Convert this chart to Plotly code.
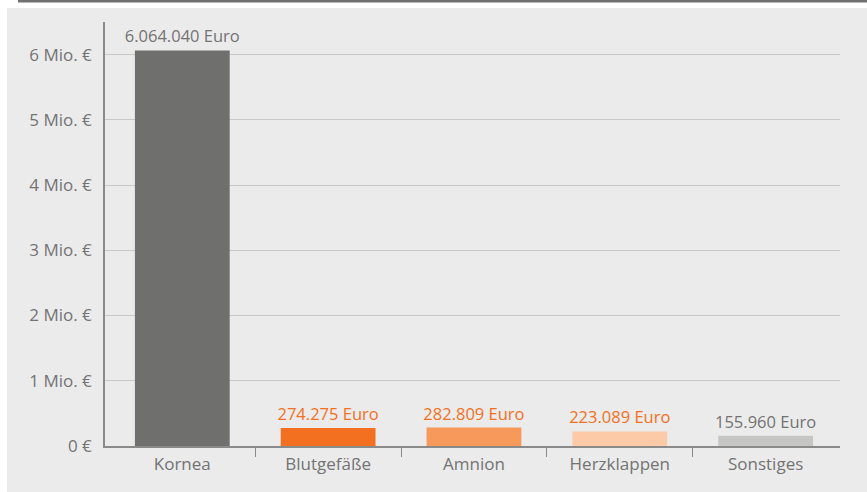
import plotly.graph_objects as go

categories = ["Kornea", "Blutgefäße", "Amnion", "Herzklappen", "Sonstiges"]
values = [6064040, 274275, 282809, 223089, 155960]
bar_colors = ["#6f706d", "#f37021", "#f7995a", "#fccaa6", "#c6c6c4"]
label_colors = ["#737373", "#f37021", "#f37021", "#f37021", "#737373"]
y_ticks = [0, 1e6, 2e6, 3e6, 4e6, 5e6, 6e6]
y_ticktext = ["0 €", "1 Mio. €", "2 Mio. €", "3 Mio. €", "4 Mio. €", "5 Mio. €", "6 Mio. €"]

font_family = "Open Sans, sans-serif"
grey_text = "#737373"

labels = [f"{v:,}".replace(",", ".") + " Euro" for v in values]
xpos = list(range(len(categories)))
bounds = [i + 0.5 for i in xpos[:-1]]

fig = go.Figure()
fig.add_trace(go.Bar(
    x=xpos, y=values, width=0.65,
    marker=dict(color=bar_colors, line=dict(width=0)),
    text=labels, textposition="outside", cliponaxis=False,
    constraintext="none",
    textfont=dict(color=label_colors, size=16.5, family=font_family),
    hoverinfo="skip",
))

fig.update_layout(
    width=867, height=492,
    margin=dict(l=105, r=27, t=22, b=46),
    paper_bgcolor="#ebebeb",
    plot_bgcolor="#ebebeb",
    showlegend=False,
    font=dict(family=font_family, color=grey_text, size=17),
    xaxis=dict(
        range=[-0.53, 4.51], tickvals=xpos, ticktext=categories,
        ticks="", showgrid=False, zeroline=False,
        showline=True, linecolor="#8a8a8a", linewidth=1.5,
        ticklabelstandoff=2,
        tickfont=dict(size=17),
        minor=dict(tickvals=bounds, ticks="outside", ticklen=9,
                   tickcolor="#8a8a8a", tickwidth=1.2, showgrid=False),
    ),
    xaxis2=dict(
        overlaying="x", matches="x", range=[-0.53, 4.51],
        tickvals=bounds, ticks="inside", ticklen=8, tickcolor="#8a8a8a",
        tickwidth=1.2, showticklabels=False, showgrid=False,
        zeroline=False, showline=False,
    ),
    yaxis=dict(
        range=[0, 6.5e6], tickvals=y_ticks, ticktext=y_ticktext,
        showgrid=True, gridcolor="#c8c8c8", gridwidth=1.3,
        zeroline=False, showline=True, linecolor="#8a8a8a", linewidth=1.5,
        ticks="", ticklabelstandoff=8,
        tickfont=dict(size=17),
    ),
    shapes=[
        # white margin strips around the grey panel
        dict(type="rect", xref="paper", yref="paper", layer="below",
             x0=-0.2, x1=-0.1333, y0=-0.3, y1=1.2,
             fillcolor="white", line=dict(width=0)),
        dict(type="rect", xref="paper", yref="paper", layer="below",
             x0=-0.2, x1=1.1, y0=1.033, y1=1.2,
             fillcolor="white", line=dict(width=0)),
        dict(type="rect", xref="paper", yref="paper", layer="below",
             x0=-0.1184, x1=1.1, y0=1.046, y1=1.06,
             fillcolor="#707070", line=dict(width=0)),
    ],
)

fig.write_html("out.html", config={"displayModeBar": False},
               post_script="document.body.style.margin='0';")
